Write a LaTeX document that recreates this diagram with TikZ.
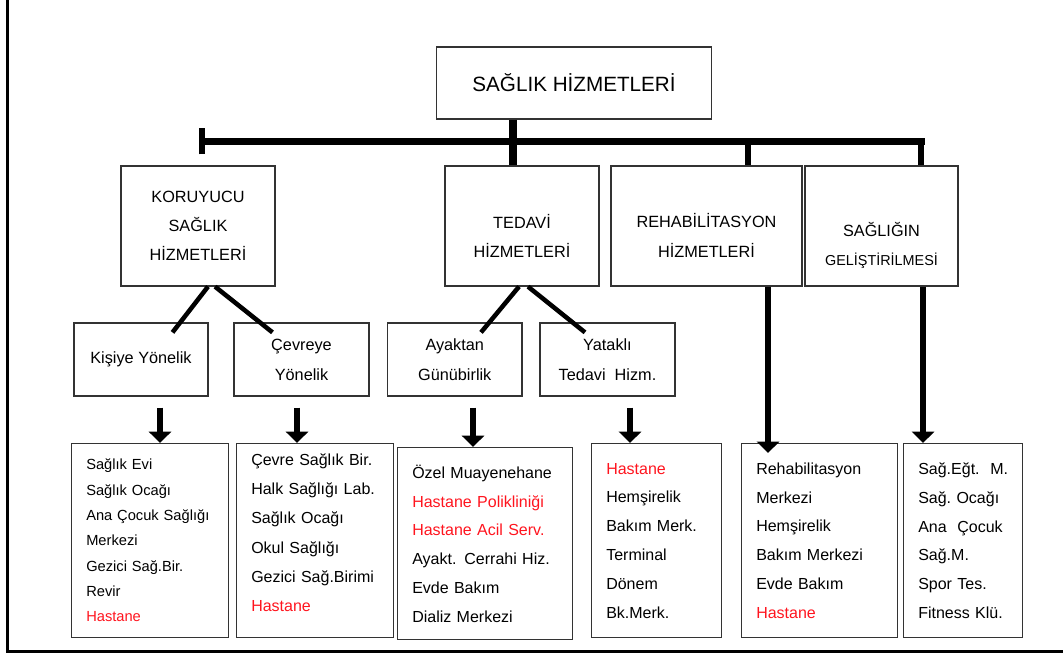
\documentclass[tikz,border=0pt]{standalone}
\usepackage{fontspec}
\setmainfont{Liberation Sans}
\usepackage{xcolor}
\usetikzlibrary{arrows.meta, calc}
\definecolor{hred}{RGB}{255,20,30}

\begin{document}
\begin{tikzpicture}[x=0.75pt, y=-0.75pt]
	\tikzstyle{mainbox}=[
	draw=black!80,
	line width=0.9pt,
	align=center,
	minimum height=90pt,
	inner sep=2pt,
	font=\fontsize{12.2}{21.75}\selectfont
	]
	\tikzstyle{subbox}=[
	draw=black!80,
	line width=0.9pt,
	align=center,
	minimum height=54.75pt,
	inner sep=2pt,
	font=\fontsize{12.2}{22.5}\selectfont
	]
	\tikzstyle{listbox}=[
	draw=black!80,
	line width=0.9pt,
	anchor=north west,
	align=left,
	inner xsep=11pt,
	inner ysep=2pt,
	minimum height=145.5pt,
	font=\fontsize{12}{21.6}\selectfont
	]
	\tikzstyle{bus}=[line width=5.25pt, line cap=rect]
	\tikzstyle{drop}=[line width=4.5pt]
	\tikzstyle{link}=[line width=3.4pt]
	\tikzstyle{down}=[line width=5pt, -{Triangle[width=16.5pt, length=8.5pt]}]
	\useasboundingbox (0,0) rectangle (1063,655);
	\draw[line width=2.25pt] (7,0) |- (1063,651);
	% top
	\node[draw=black!80, line width=0.9pt, minimum width=206pt, minimum height=54pt, font=\fontsize{15.5}{18}\selectfont] (saglik) at (574,83) {SAĞLIK HİZMETLERİ};
	% first level
	\node[mainbox, minimum width=115.5pt] (kor) at (198,226) {KORUYUCU\\SAĞLIK\\HİZMETLERİ};
	\node[mainbox, minimum width=115.5pt] (ted) at (522,226) {\rule{0pt}{25pt}TEDAVİ\\HİZMETLERİ};
	\node[mainbox, minimum width=143.25pt, font=\fontsize{12.2}{23}\selectfont] (reh) at (706.5,226) {\rule{0pt}{25pt}REHABİLİTASYON\\HİZMETLERİ};
	\node[mainbox, minimum width=114.75pt] (gel) at (881.5,226) {\rule{0pt}{39.5pt}SAĞLIĞIN\\{\fontsize{10.8}{13}\selectfont GELİŞTİRİLMESİ}};
	% second level
	\node[subbox, minimum width=100.5pt] (kis) at (141,359.5) {Kişiye Yönelik};
	\node[subbox, minimum width=101.25pt] (cev) at (301.5,359.5) {Çevreye\\Yönelik};
	\node[subbox, minimum width=100.9pt] (ayk) at (454.75,359.5) {Ayaktan\\Günübirlik};
	\node[subbox, minimum width=101.25pt] (yat) at (607.5,359.5) {Yataklı\\Tedavi~~Hizm.};
	% lists
	\node[listbox, text width=95.75pt, font=\fontsize{11}{19}\selectfont] (lkis) at (71,443) {Sağlık Evi\\Sağlık Ocağı\\Ana Çocuk Sağlığı\\Merkezi\\Gezici Sağ.Bir.\\Revir\\\textcolor{hred}{Hastane}};
	\node[listbox, text width=95.75pt, font=\fontsize{12}{21.9}\selectfont] (lcev) at (236,443) {Çevre Sağlık Bir.\\Halk Sağlığı Lab.\\Sağlık Ocağı\\Okul Sağlığı\\Gezici~Sağ.Birimi\\\textcolor{hred}{Hastane}\rule[-12pt]{0pt}{12pt}};
	\node[listbox, text width=109.25pt, minimum height=144pt] (layk) at (397,447) {Özel Muayenehane\\\textcolor{hred}{Hastane Polikliniği}\\\textcolor{hred}{Hastane Acil Serv.}\\Ayakt. Cerrahi Hiz.\\Evde Bakım\\Dializ Merkezi};
	\node[listbox, text width=75.5pt] (lyat) at (591,443) {\textcolor{hred}{Hastane}\\Hemşirelik\\Bakım~Merk.\\Terminal\\Dönem\\Bk.Merk.};
	\node[listbox, text width=95pt] (lreh) at (741,443) {Rehabilitasyon\\Merkezi\\Hemşirelik\\Bakım Merkezi\\Evde Bakım\\\textcolor{hred}{Hastane}};
	\node[listbox, text width=67.25pt] (lgel) at (903,443) {Sağ.Eğt.~~M.\\Sağ.~Ocağı\\Ana~~Çocuk\\Sağ.M.\\Spor~Tes.\\Fitness~Klü.};
	% bus
	\coordinate (busL) at (199,141.5);
	\coordinate (busR) at (921,141.5);
	\coordinate (stem) at (513,141.5);
	\coordinate (dropR) at (748,141.5);
	\draw[bus, {Bar[width=19.5pt, line width=4.5pt]}-] (busL) -- (busR);
	\draw[drop, line width=6pt] (saglik.south -| stem) -- (ted.north -| stem);
	\draw[drop] (dropR) -- (dropR |- reh.north);
	\draw[drop] (busR) -- (busR |- gel.north);
	% links
	\draw[link] ($(kor.south)+(10,0)$) -- ($(kis.north)+(31.5,10)$);
	\draw[link] ($(kor.south)+(17,0)$) -- ($(cev.north)+(-29,10)$);
	\draw[link] ($(ted.south)+(-3,0)$) -- ($(ayk.north)+(26.25,10)$);
	\draw[link] ($(ted.south)+(6,0)$) -- ($(yat.north)+(-22.5,10)$);
	% arrows
	\coordinate (a1) at ($(kis.south)+(19,11)$);
	\coordinate (a2) at ($(cev.south)+(-4.5,11)$);
	\coordinate (a3) at ($(ayk.south)+(18.25,11)$);
	\coordinate (a4) at ($(yat.south)+(22.5,11)$);
	\coordinate (a5) at ($(reh.south)+(61.5,0)$);
	\coordinate (a6) at ($(gel.south)+(41.5,0)$);
	\coordinate (t5) at ($(a5 |- lreh.north)+(0,10)$);
	\draw[down] (a1) -- (a1 |- lkis.north);
	\draw[down] (a2) -- (a2 |- lcev.north);
	\draw[down] (a3) -- (a3 |- layk.north);
	\draw[down] (a4) -- (a4 |- lyat.north);
	\draw[down] (a5) -- (t5);
	\draw[down] (a6) -- (a6 |- lgel.north);
\end{tikzpicture}
\end{document}
